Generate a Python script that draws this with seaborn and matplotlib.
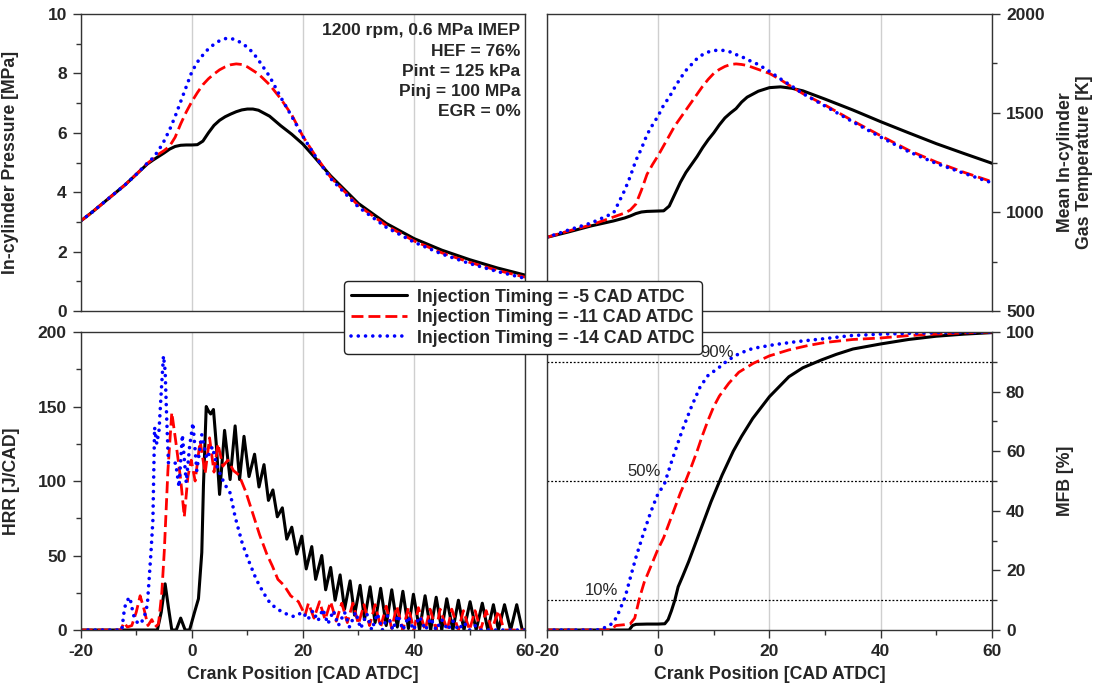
import numpy as np
import matplotlib
matplotlib.use("Agg")
import matplotlib.pyplot as plt
from matplotlib.ticker import MultipleLocator
import seaborn as sns

# ---------------------------------------------------------------
# Data
# ---------------------------------------------------------------
labels = ["Injection Timing = -5 CAD ATDC",
          "Injection Timing = -11 CAD ATDC",
          "Injection Timing = -14 CAD ATDC"]

# in-cylinder pressure [MPa]
cad_p = [-20, -18, -16, -14, -12, -10, -8, -7, -6, -5, -4, -3, -2, -1, 0, 1, 2, 3, 4, 5,
         6, 7, 8, 9, 10, 11, 12, 14, 16, 18, 20, 22, 25, 30, 35, 40, 45, 50, 55, 60]
p_m5 = [3.03, 3.32, 3.63, 3.94, 4.25, 4.6, 4.95, 5.08, 5.2, 5.32, 5.45, 5.54, 5.58, 5.59, 5.59, 5.6, 5.72, 6.0, 6.25, 6.42,
        6.54, 6.63, 6.71, 6.77, 6.8, 6.8, 6.76, 6.56, 6.24, 5.95, 5.62, 5.2, 4.55, 3.62, 2.95, 2.44, 2.05, 1.73, 1.45, 1.21]
p_m11 = [3.03, 3.32, 3.63, 3.94, 4.25, 4.6, 4.97, 5.12, 5.28, 5.4, 5.55, 5.85, 6.3, 6.7, 7.05, 7.35, 7.62, 7.82, 7.98, 8.12,
         8.22, 8.29, 8.32, 8.3, 8.22, 8.1, 7.98, 7.62, 7.15, 6.6, 5.88, 5.3, 4.5, 3.55, 2.88, 2.36, 1.96, 1.64, 1.37, 1.14]
p_m14 = [3.03, 3.32, 3.63, 3.94, 4.25, 4.6, 4.98, 5.15, 5.4, 5.72, 6.1, 6.55, 7.05, 7.55, 8.05, 8.38, 8.62, 8.83, 8.98, 9.1,
         9.17, 9.18, 9.12, 9.02, 8.88, 8.7, 8.45, 7.9, 7.2, 6.55, 5.88, 5.28, 4.46, 3.5, 2.82, 2.32, 1.92, 1.6, 1.33, 1.1]

# mean in-cylinder gas temperature [K]
cad_t = [-20, -16, -12, -8, -6, -5, -4, -3, -2, -1, 0, 1, 2, 3, 4, 5, 6, 7, 8, 9,
         10, 11, 12, 13, 14, 15, 16, 18, 20, 22, 24, 26, 30, 35, 40, 45, 50, 55, 60]
t_m5 = [872, 900, 930, 955, 970, 980, 992, 1000, 1003, 1004, 1005, 1006, 1030, 1090, 1150, 1200, 1240, 1280, 1325, 1365,
        1400, 1440, 1475, 1500, 1522, 1555, 1580, 1610, 1628, 1632, 1625, 1612, 1570, 1515, 1456, 1400, 1345, 1295, 1246]
t_m11 = [872, 905, 935, 975, 995, 1010, 1040, 1110, 1190, 1240, 1285, 1335, 1385, 1435, 1475, 1515, 1555, 1595, 1635, 1670,
         1700, 1720, 1735, 1745, 1748, 1745, 1740, 1720, 1700, 1668, 1632, 1598, 1540, 1460, 1385, 1312, 1252, 1200, 1153]
t_m14 = [872, 910, 945, 995, 1110, 1180, 1260, 1320, 1390, 1440, 1485, 1540, 1580, 1630, 1675, 1715, 1745, 1775, 1795, 1808,
         1815, 1818, 1815, 1808, 1795, 1785, 1770, 1745, 1710, 1672, 1636, 1598, 1535, 1455, 1378, 1305, 1245, 1195, 1147]

# heat release rate [J/CAD], (CAD, HRR) pairs
hrr_m5 = np.array([
    (-20, 0), (-6.2, 0), (-5.5, 12), (-4.8, 31), (-4.2, 15), (-3.6, 0), (-2.8, 0), (-2.0, 8), (-1.2, 0), (-0.4, 0),
    (0.5, 12), (1.2, 21), (1.8, 52), (2.1, 97), (2.6, 150), (3.0, 147), (3.4, 145), (3.9, 148), (4.4, 125), (5.0, 91),
    (5.9, 134), (6.9, 101), (7.8, 137), (8.6, 101), (9.4, 130), (10.3, 103), (11.3, 118), (12.1, 96), (13.0, 111),
    (13.8, 87), (14.6, 94), (15.4, 76), (16.3, 82), (17.1, 61), (18.0, 69), (18.9, 51), (19.8, 63), (20.6, 41),
    (21.6, 56), (22.3, 34), (23.4, 50), (24.1, 27), (25.0, 42), (25.8, 20), (26.7, 37), (27.5, 14), (28.5, 33),
    (29.3, 10), (30.3, 30), (31.1, 7), (32.1, 29), (33.0, 5), (34.0, 28), (35.0, 3), (36.0, 27), (37.0, 2), (38.0, 26),
    (39.0, 1), (39.9, 24), (41.0, 0), (42.0, 23), (43.0, 0), (44.0, 22), (45.0, 0), (45.9, 21), (47.0, 0), (48.0, 20),
    (49.0, 0), (50.1, 19), (51.2, 0), (52.3, 18), (53.3, 0), (54.3, 17), (55.2, 0), (56.3, 17), (57.4, 0), (58.5, 17),
    (59.5, 0), (60, 0)])
hrr_m11 = np.array([
    (-20, 0), (-12.8, 0), (-12.2, 5), (-11.6, 2), (-10.8, 3), (-10.0, 12), (-9.3, 23), (-8.6, 14), (-7.9, 3), (-7.2, 7),
    (-6.6, 2), (-6.0, 4), (-5.4, 25), (-4.95, 53), (-4.3, 107), (-3.6, 146), (-2.9, 127), (-2.0, 101), (-1.35, 76),
    (-0.7, 103), (-0.1, 114), (0.6, 100), (1.5, 127), (2.4, 105), (3.2, 129), (4.0, 106), (4.7, 125), (5.6, 110),
    (6.5, 114), (7.5, 107), (8.5, 104), (9.7, 93), (11.0, 78), (12.2, 64), (13.5, 51), (14.5, 43), (15.5, 34),
    (16.6, 30), (17.8, 23), (19.2, 19), (20.4, 10), (21.0, 18), (22.0, 8), (23.0, 19), (24.0, 7), (25.0, 19), (26.0, 6),
    (27.0, 18), (28.0, 5), (29.0, 18), (30.0, 4), (31.0, 17), (32.0, 3), (33.0, 17), (34.0, 2), (35.0, 16), (36.0, 1),
    (36.9, 16), (38.0, 0), (39.0, 15), (40.0, 0), (40.8, 15), (42.0, 0), (42.9, 14), (44.0, 0), (44.7, 14), (46.0, 0),
    (46.8, 14), (48.0, 0), (48.9, 13), (50.0, 0), (51.0, 13), (52.0, 0), (53.0, 13), (54.0, 0), (55.2, 13), (56.2, 0),
    (60, 0)])
hrr_m14 = np.array([
    (-20, 0), (-12.6, 0), (-12.1, 15), (-11.6, 20), (-11.15, 22), (-10.5, 10), (-9.8, 5), (-9.3, 4), (-8.6, 8),
    (-8.0, 17), (-7.35, 52), (-7.0, 74), (-6.7, 136), (-6.3, 125), (-5.9, 134), (-5.45, 163), (-5.1, 184), (-4.8, 174),
    (-4.5, 140), (-4.2, 112), (-3.6, 112), (-2.9, 112), (-2.3, 96), (-1.7, 131), (-1.0, 99), (-0.4, 123), (0.2, 139),
    (0.9, 107), (1.8, 131), (2.7, 115), (3.7, 123), (4.6, 109), (5.9, 98), (6.9, 92), (7.8, 76), (9.1, 58), (10.4, 45),
    (11.6, 34), (12.9, 25), (14.1, 18), (15.4, 14), (16.9, 11), (18.4, 9), (20.0, 12), (20.9, 7), (21.8, 13), (22.7, 6),
    (23.6, 14), (24.5, 4), (25.5, 13), (26.4, 3), (27.5, 12), (28.4, 2), (29.5, 12), (30.4, 1), (31.5, 11), (32.4, 0),
    (33.4, 11), (34.3, 0), (35.3, 10), (36.2, 0), (37.1, 10), (38.0, 0), (39.0, 9), (39.9, 0), (41.0, 9), (42.1, 0),
    (43.0, 8), (44.0, 0), (45.0, 7), (46.1, 0), (47.0, 6), (48.0, 0), (49.0, 5), (50.0, 0), (51.0, 3), (52.0, 0),
    (60, 0)])

# mass fraction burned [%]
cad_mfb_m5 = [-20, -5.2, -4.6, -4, -2, 0, 1.2, 1.8, 2.4, 3.0, 3.6, 4.4, 5.5, 6.5, 7.5, 8.5, 9.5,
              10.5, 11.5, 12.5, 13.5, 15, 17, 20, 23.5, 26, 29.3, 32, 35, 40, 45, 50, 55, 60]
mfb_m5 = [0, 0, 1.5, 1.9, 2.0, 2.0, 2.1, 3.5, 6.5, 10, 14.5, 18, 23, 28, 33, 38, 43,
          47.5, 52, 56, 60, 65, 71, 78.3, 85, 88, 90.6, 92.5, 94.3, 96, 97.5, 98.6, 99.3, 99.8]
cad_mfb_m11 = [-20, -8.5, -7.6, -6, -5, -4.2, -3.3, -2.5, -1.5, -0.1, 1, 2, 3, 4, 5, 6, 7,
               8, 9, 10, 11, 12.7, 14.5, 17.1, 20, 23.5, 27, 30, 35, 40, 45, 50, 55, 60]
mfb_m11 = [0, 0, 1.5, 1.8, 2.1, 4, 11, 16, 20.5, 26.8, 31, 36, 41, 46, 50.3, 55, 60,
           65.5, 70.5, 75, 78.5, 82.8, 86.5, 89.5, 92, 94, 95.5, 96.5, 97.5, 98, 98.8, 99.3, 99.7, 100]
cad_mfb_m14 = [-20, -11, -10, -9, -8, -7.15, -5.9, -5, -3.95, -2.7, -1.4, -0.2, 1.17, 2.5, 4.35,
               6, 7.55, 9, 10.75, 12.5, 14.6, 17, 21, 25, 30, 34.6, 40, 50, 60]
mfb_m14 = [0, 0, 0.5, 1.3, 2.5, 5.6, 11.2, 17.5, 24.6, 32, 39.2, 45, 49.2, 57, 67.1,
           75, 81.6, 85.5, 87.8, 90.5, 92.8, 94.5, 95.8, 96.8, 97.8, 98.8, 99.3, 99.8, 100]

mfb_marks = [10, 50, 90]
mfb_mark_x = [-7.2, 0.5, 13.6]

info_text = "1200 rpm, 0.6 MPa IMEP\nHEF = 76%\nPint = 125 kPa\nPinj = 100 MPa\nEGR = 0%"

# ---------------------------------------------------------------
# Style
# ---------------------------------------------------------------
sns.set_theme(style="ticks")
plt.rcParams['font.family'] = ['Liberation Sans', 'DejaVu Sans']
plt.rcParams['font.weight'] = 'bold'
plt.rcParams['axes.labelweight'] = 'bold'
plt.rcParams['axes.edgecolor'] = '#333333'
plt.rcParams['axes.linewidth'] = 1.0
plt.rcParams['axes.unicode_minus'] = False

styles = [dict(color="black", lw=2.2, dash=None),
          dict(color="red", lw=2.0, dash=(4.3, 1.8)),
          dict(color="blue", lw=2.6, dash=(0.01, 2.0))]


def draw(ax, x, y, i, label=None):
    sns.lineplot(x=x, y=y, ax=ax, color=styles[i]["color"], lw=styles[i]["lw"],
                 estimator=None, sort=False, legend=False, label=label)
    line = ax.get_lines()[-1]
    if styles[i]["dash"] is not None:
        line.set_dashes(styles[i]["dash"])
        if i == 2:
            line.set_dash_capstyle("round")


def base_axis(ax, ymin, ymax, ymaj, ymin_step, right=False, bottom=False):
    ax.set_xlim(-20, 60)
    ax.set_ylim(ymin, ymax)
    ax.xaxis.set_major_locator(MultipleLocator(20))
    ax.xaxis.set_minor_locator(MultipleLocator(10))
    ax.yaxis.set_major_locator(MultipleLocator(ymaj))
    ax.yaxis.set_minor_locator(MultipleLocator(ymin_step))
    ax.grid(axis="x", which="major", color="#cfcfcf", lw=1.0)
    ax.set_axisbelow(True)
    for s in ax.spines.values():
        s.set_visible(True)
        s.set_color("#333333")
    ax.tick_params(which="major", length=6, width=1, labelsize=12.5, pad=4, color="#333333")
    ax.tick_params(which="minor", length=3.5, width=1, color="#333333")
    if right:
        ax.yaxis.tick_right()
        ax.yaxis.set_label_position("right")
    if not bottom:
        ax.tick_params(axis="x", which="both", bottom=False, labelbottom=False)
    for lab in ax.get_xticklabels() + ax.get_yticklabels():
        lab.set_fontweight("bold")


fig = plt.figure(figsize=(10.98, 6.89), dpi=100)
ax_p = fig.add_axes([0.0735, 0.5486, 0.4047, 0.4311])
ax_t = fig.add_axes([0.4980, 0.5486, 0.4055, 0.4311])
ax_h = fig.add_axes([0.0735, 0.0856, 0.4047, 0.4325])
ax_m = fig.add_axes([0.4980, 0.0856, 0.4055, 0.4325])

lab_size = 12.7

# pressure
for i, y in enumerate([p_m5, p_m11, p_m14]):
    draw(ax_p, cad_p, y, i, label=labels[i])
base_axis(ax_p, 0, 10, 2, 1)
ax_p.set_ylabel("In-cylinder Pressure [MPa]", fontsize=lab_size)
ax_p.yaxis.set_label_coords(-0.138, 0.5)
ax_p.text(0.99, 0.968, info_text, transform=ax_p.transAxes, ha="right", va="top",
          fontsize=12.5, fontweight="bold", linespacing=1.42)

# temperature
for i, y in enumerate([t_m5, t_m11, t_m14]):
    draw(ax_t, cad_t, y, i)
base_axis(ax_t, 500, 2000, 500, 250, right=True)
ax_t.set_ylabel("Mean In-cylinder\nGas Temperature [K]", fontsize=lab_size, rotation=90,
                ha="center", va="center", linespacing=1.1)
ax_t.yaxis.set_label_coords(1.186, 0.5)

# heat release rate
for i, arr in enumerate([hrr_m5, hrr_m11, hrr_m14]):
    draw(ax_h, arr[:, 0], arr[:, 1], i)
base_axis(ax_h, 0, 200, 50, 25, bottom=True)
ax_h.set_ylabel("HRR [J/CAD]", fontsize=lab_size)
ax_h.yaxis.set_label_coords(-0.137, 0.5)
ax_h.set_xlabel("Crank Position [CAD ATDC]", fontsize=lab_size, labelpad=5)

# mass fraction burned
for val, xr in zip(mfb_marks, mfb_mark_x):
    ax_m.axhline(val, color="black", lw=0.9, ls=(0, (1.5, 1.5)), zorder=1)
    ax_m.text(xr, val + 0.6, f"{val}%", ha="right", va="bottom", fontsize=12, fontweight="normal")
for i, (x, y) in enumerate([(cad_mfb_m5, mfb_m5), (cad_mfb_m11, mfb_m11), (cad_mfb_m14, mfb_m14)]):
    draw(ax_m, x, y, i)
base_axis(ax_m, 0, 100, 20, 10, right=True, bottom=True)
ax_m.set_ylabel("MFB [%]", fontsize=lab_size, rotation=90, va="center")
ax_m.yaxis.set_label_coords(1.166, 0.5)
ax_m.set_xlabel("Crank Position [CAD ATDC]", fontsize=lab_size, labelpad=5)

handles, labs = ax_p.get_legend_handles_labels()
leg = fig.legend(handles, labs, loc="center", bbox_to_anchor=(0.4765, 0.539),
                 handlelength=3.1, handletextpad=0.6, labelspacing=0.2,
                 borderpad=0.4, fancybox=True, framealpha=1, edgecolor="#222222",
                 prop={"weight": "bold", "size": 12.8})
leg.get_frame().set_linewidth(1.0)
leg.set_zorder(10)

fig.savefig("out.png", dpi=100)
